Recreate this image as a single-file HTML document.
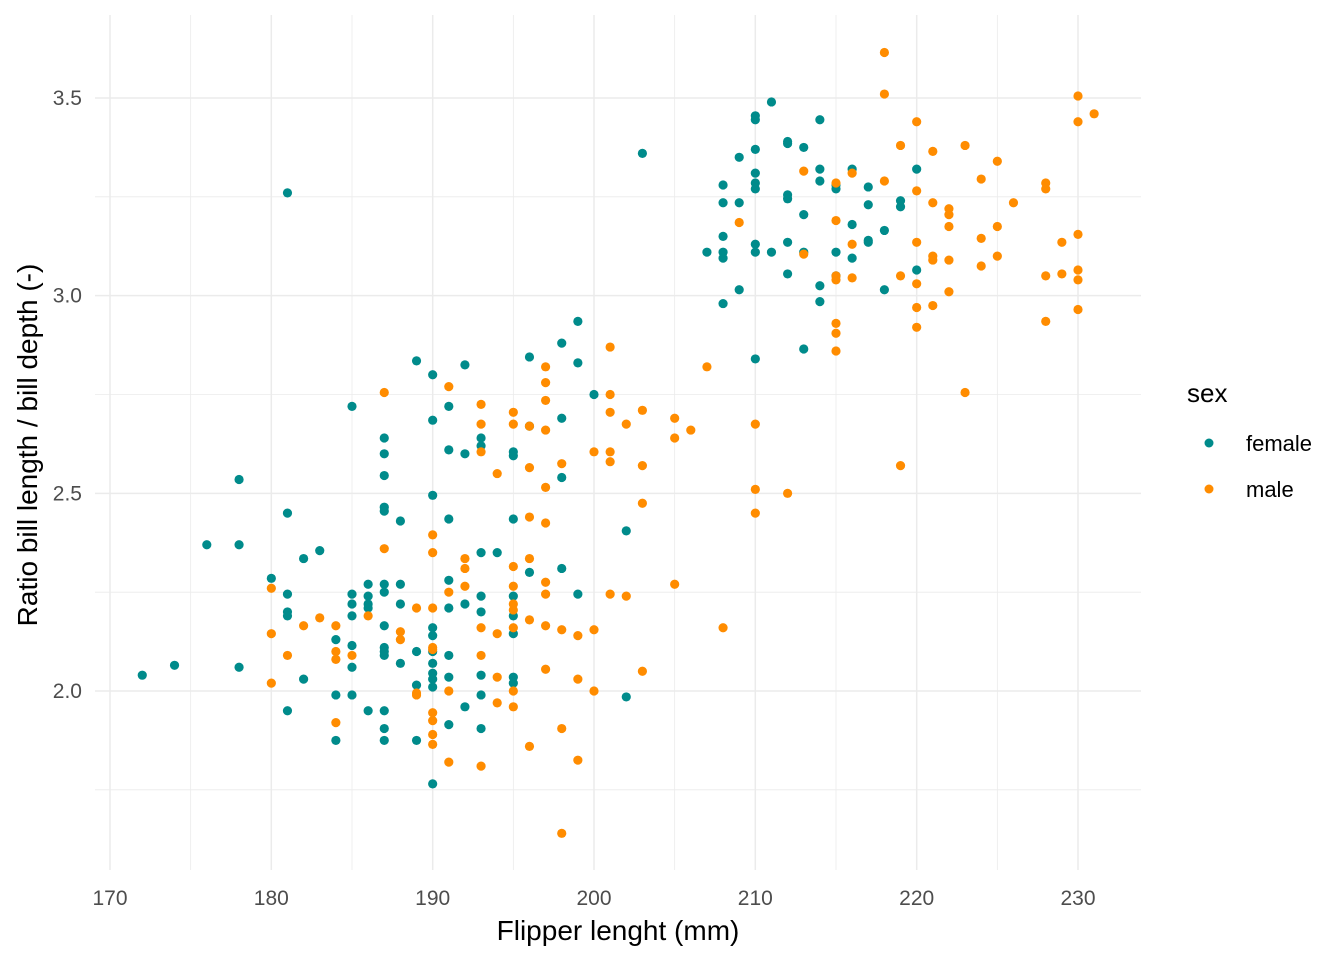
<!DOCTYPE html>
<html><head><meta charset="utf-8"><style>
html,body{margin:0;padding:0;background:#fff}
svg{display:block;font-family:"Liberation Sans",Arial,sans-serif}
</style></head><body>
<svg id="chart" width="1344" height="960">
<g id="grid"></g>
<g id="points"></g>
<g id="axes"></g>
<text x="37" y="445" transform="rotate(-90 37 445)" text-anchor="middle" font-size="28" fill="#000">Ratio bill length / bill depth (-)</text>
<text x="618" y="940" text-anchor="middle" font-size="28" fill="#000">Flipper lenght (mm)</text>
<g>
<text x="1187" y="402" font-size="26" fill="#000">sex</text>
<g><circle cx="1209" cy="443" r="4.5" fill="#008b8b"/><text x="1246" y="451" font-size="22" fill="#000">female</text></g>
<g><circle cx="1209" cy="489" r="4.5" fill="#ff8c00"/><text x="1246" y="497" font-size="22" fill="#000">male</text></g>
</g>
</svg>
<script>
const xTicks=[170,180,190,200,210,220,230];
const yTicks=[2.0,2.5,3.0,3.5];
const yTickLabels=["2.0","2.5","3.0","3.5"];
const female=[[172,[2.04]],[174,[2.065]],[176,[2.37]],[178,[2.535,2.37,2.06]],[180,[2.285]],
[181,[3.26,2.45,2.245,2.2,2.19,1.95]],[182,[2.335,2.03]],[183,[2.355]],[184,[2.13,1.99,1.875]],
[185,[2.72,2.245,2.22,2.19,2.115,2.06,1.99]],[186,[2.27,2.24,2.22,2.21,1.95]],
[187,[2.64,2.6,2.545,2.465,2.455,2.27,2.25,2.165,2.11,2.1,2.09,1.95,1.905,1.875]],
[188,[2.43,2.27,2.22,2.07]],[189,[2.835,2.1,2.015,1.875]],
[190,[2.8,2.685,2.495,2.16,2.14,2.1,2.07,2.045,2.03,2.01,1.765]],
[191,[2.72,2.61,2.435,2.28,2.21,2.09,2.035,1.915]],[192,[2.825,2.6,2.22,1.96]],
[193,[2.64,2.62,2.35,2.24,2.2,2.04,1.99,1.905]],[194,[2.35]],
[195,[2.605,2.595,2.435,2.24,2.19,2.145,2.035,2.02]],[196,[2.845,2.67,2.3]],
[198,[2.88,2.69,2.54,2.31]],[199,[2.935,2.83,2.245]],[200,[2.75]],[202,[2.405,1.985]],[203,[3.36]],
[207,[3.11]],[208,[3.28,3.235,3.15,3.11,3.095,2.98]],[209,[3.35,3.235,3.015]],
[210,[3.455,3.445,3.37,3.31,3.285,3.27,3.13,3.11,2.84]],[211,[3.49,3.11]],
[212,[3.39,3.385,3.255,3.245,3.135,3.055]],[213,[3.375,3.205,3.11,2.865]],
[214,[3.445,3.32,3.29,3.025,2.985]],[215,[3.28,3.27,3.11,3.05]],[216,[3.32,3.18,3.095]],
[217,[3.275,3.23,3.14,3.135]],[218,[3.165,3.015]],[219,[3.24,3.225]],[220,[3.32,3.065]]];
const male=[[180,[2.26,2.145,2.02]],[181,[2.09]],[182,[2.165]],[183,[2.185]],[184,[2.165,2.1,2.08,1.92]],
[185,[2.09]],[186,[2.19]],[187,[2.755,2.36]],[188,[2.15,2.13]],[189,[2.21,1.995,1.99]],
[190,[2.395,2.35,2.21,2.11,2.105,1.945,1.925,1.89,1.865]],[191,[2.77,2.25,2.0,1.82]],
[192,[2.335,2.31,2.265]],[193,[2.725,2.675,2.605,2.16,2.09,1.81]],[194,[2.55,2.145,2.035,1.97]],
[195,[2.705,2.675,2.315,2.265,2.22,2.205,2.16,2.0,1.96]],[196,[2.67,2.565,2.44,2.335,2.18,1.86]],
[197,[2.82,2.78,2.735,2.66,2.515,2.425,2.275,2.245,2.165,2.055]],[198,[2.575,2.155,1.905,1.64]],
[199,[2.14,2.03,1.825]],[200,[2.605,2.155,2.0]],[201,[2.87,2.75,2.705,2.605,2.58,2.245]],
[202,[2.675,2.24]],[203,[2.71,2.57,2.475,2.05]],[205,[2.69,2.64,2.27]],[206,[2.66]],[207,[2.82]],
[208,[2.16]],[209,[3.185]],[210,[2.675,2.51,2.45]],[212,[2.5]],[213,[3.315,3.105]],
[215,[3.285,3.19,3.05,3.04,2.93,2.905,2.86]],[216,[3.31,3.13,3.045]],[218,[3.615,3.51,3.29]],
[219,[3.38,3.05,2.57]],[220,[3.44,3.265,3.135,3.03,2.97,2.92]],[221,[3.365,3.235,3.1,3.09,2.975]],
[222,[3.22,3.205,3.175,3.09,3.01]],[223,[3.38,2.755]],[224,[3.295,3.145,3.075]],[225,[3.34,3.175,3.1]],
[226,[3.235]],[228,[3.285,3.27,3.05,2.935]],[229,[3.135,3.055]],
[230,[3.505,3.44,3.155,3.065,3.04,2.965]],[231,[3.46]]];

const X0=95,X1=1141,Y0=15,Y1=870;
function sx(v){return 110+(v-170)*(968/60);}
function sy(v){return 691-(v-2)*(593/1.5);}
const NS="http://www.w3.org/2000/svg";
function mk(tag,attrs,parent){const e=document.createElementNS(NS,tag);for(const k in attrs)e.setAttribute(k,attrs[k]);parent.appendChild(e);return e;}
const grid=document.getElementById('grid'),pts=document.getElementById('points'),axes=document.getElementById('axes');
for(let i=0;i<xTicks.length-1;i++){const v=(xTicks[i]+xTicks[i+1])/2;const l=mk('line',{x1:sx(v),x2:sx(v),y1:Y0,y2:Y1,stroke:'#ebebeb','stroke-width':0.8},grid);

}
[1.75,2.25,2.75,3.25].forEach(v=>{const l=mk('line',{x1:X0,x2:X1,y1:sy(v),y2:sy(v),stroke:'#ebebeb','stroke-width':0.8},grid);

});
xTicks.forEach(v=>{const l=mk('line',{x1:sx(v),x2:sx(v),y1:Y0,y2:Y1,stroke:'#ebebeb','stroke-width':1.5},grid);


const t=mk('text',{x:sx(v),y:905,'text-anchor':'middle','font-size':21,fill:'#4d4d4d'},axes);t.textContent=v;

});
yTicks.forEach((v,i)=>{const l=mk('line',{x1:X0,x2:X1,y1:sy(v),y2:sy(v),stroke:'#ebebeb','stroke-width':1.5},grid);


const t=mk('text',{x:82,y:sy(v)+7,'text-anchor':'end','font-size':21,fill:'#4d4d4d'},axes);t.textContent=yTickLabels[i];

});
function draw(series,color,name){series.forEach(([x,ys])=>ys.forEach(y=>{const c=mk('circle',{cx:sx(x),cy:sy(y),r:4.6,fill:color},pts);

}));}
draw(female,'#008b8b','point-female');
draw(male,'#ff8c00','point-male');
</script>
</body></html>
